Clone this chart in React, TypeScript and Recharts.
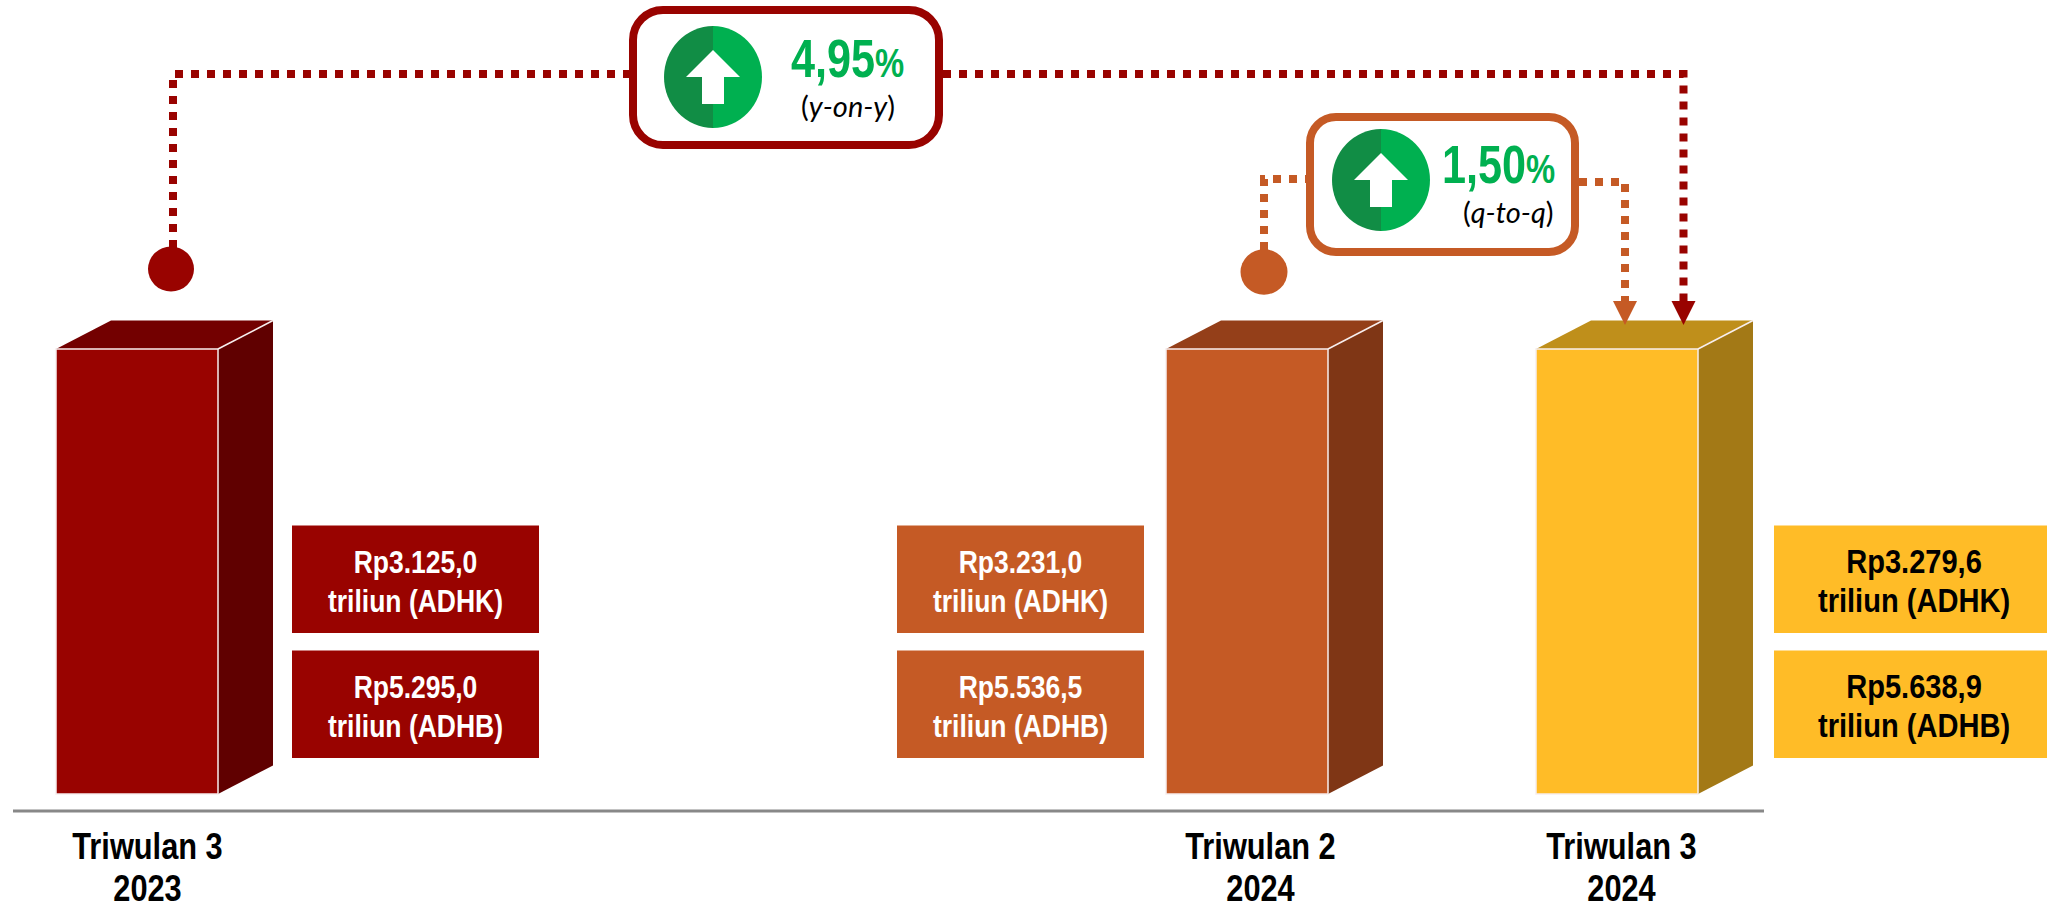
import { Bar, BarChart, XAxis, YAxis } from "recharts";

// five quarters on the axis, two of them are left empty in the source picture
const quarterIds = ["T3-2023", "T4-2023", "T1-2024", "T2-2024", "T3-2024"];
const quarterLabels = ["Triwulan 3", "", "", "Triwulan 2", "Triwulan 3"];
const yearLabels = ["2023", "", "", "2024", "2024"];
// the columns are illustrative: all drawn the same height, whatever the amounts
const barHeights = [100, null, null, 100, 100];
const adhk = [3125.0, null, null, 3231.0, 3279.6];
const adhb = [5295.0, null, null, 5536.5, 5638.9];

const data = quarterIds.map((id, i) => ({
  id,
  quarter: quarterLabels[i],
  year: yearLabels[i],
  height: barHeights[i],
  adhk: adhk[i],
  adhb: adhb[i],
}));

const GREEN = "#00B050";
const GREEN_DARK = "#118D45";
const RED = "#990300";
const ORANGE = "#C55A25";

const barStyles: Record<string, any> = {
  "T3-2023": { front: RED, side: "#600000", top: "#730000", boxDx: 236, boxW: 247, text: "#fff", font: 31, labelDx: 10.5 },
  "T2-2024": { front: ORANGE, side: "#7F3615", top: "#943F19", boxDx: -269, boxW: 247, text: "#fff", font: 31, labelDx: 13.5 },
  "T3-2024": { front: "#FFBC27", side: "#A37916", top: "#BF8F1B", boxDx: 238, boxW: 280, text: "#000", font: 34, labelDx: 4.5 },
};

const rupiah = (v: number) =>
  "Rp" + v.toLocaleString("id-ID", { minimumFractionDigits: 1, maximumFractionDigits: 1 });

// no Arial Narrow here, so squeeze Liberation Sans Bold sideways
function NarrowText({ x, y, size, fill, anchor = "middle", squeeze = 0.855, children }: any) {
  return (
    <text
      transform={`translate(${x} ${y}) scale(${squeeze} 1)`}
      textAnchor={anchor}
      fontFamily="'Liberation Sans', Arial, sans-serif"
      fontWeight={700}
      fontSize={size}
      fill={fill}
    >
      {children}
    </text>
  );
}

function ValueBox({ x, y, width, fill, color, font, amount, kind }: any) {
  const cx = x + width / 2;
  return (
    <g>
      <rect x={x} y={y} width={width} height={107.5} fill={fill} />
      <NarrowText x={cx} y={y + 47} size={font} fill={color}>
        {rupiah(amount)}
      </NarrowText>
      <NarrowText x={cx} y={y + 86} size={font} fill={color}>
        {`triliun (${kind})`}
      </NarrowText>
    </g>
  );
}

function Column(props: any) {
  const { x, y, width, height, payload } = props;
  if (!payload || payload.height == null) return null;
  const s = barStyles[payload.id];
  const dx = 55;
  const dy = 28.5;
  const r = x + width;
  const b = y + height;
  return (
    <g>
      <polygon points={`${x},${y} ${x + dx},${y - dy} ${r + dx},${y - dy} ${r},${y}`} fill={s.top} />
      <polygon points={`${r},${y} ${r + dx},${y - dy} ${r + dx},${b - dy} ${r},${b}`} fill={s.side} />
      <rect x={x} y={y} width={width} height={height} fill={s.front} stroke="#f7eeee" strokeWidth={1.5} />
      <line x1={r} y1={y} x2={r + dx} y2={y - dy} stroke="#f7eeee" strokeWidth={1.5} />
      <ValueBox x={x + s.boxDx} y={y + 176.5} width={s.boxW} fill={s.front} color={s.text} font={s.font} amount={payload.adhk} kind="ADHK" />
      <ValueBox x={x + s.boxDx} y={y + 301.5} width={s.boxW} fill={s.front} color={s.text} font={s.font} amount={payload.adhb} kind="ADHB" />
    </g>
  );
}

function QuarterTick({ x, y, payload, index }: any) {
  const row = data[index];
  if (!row || !row.quarter) return null;
  const s = barStyles[payload.value];
  const cx = x + s.labelDx;
  return (
    <g>
      <NarrowText x={cx} y={y + 40} size={36} fill="#000">{row.quarter}</NarrowText>
      <NarrowText x={cx} y={y + 82} size={36} fill="#000">{row.year}</NarrowText>
    </g>
  );
}

function UpBadge({ cx, cy }: { cx: number; cy: number }) {
  const rx = 49;
  const ry = 51;
  return (
    <g>
      <path d={`M${cx} ${cy - ry} A${rx} ${ry} 0 0 0 ${cx} ${cy + ry} Z`} fill={GREEN_DARK} />
      <path d={`M${cx} ${cy - ry} A${rx} ${ry} 0 0 1 ${cx} ${cy + ry} Z`} fill={GREEN} />
      <polygon
        points={`${cx},${cy - 27} ${cx + 27},${cy} ${cx + 11},${cy} ${cx + 11},${cy + 27} ${cx - 11},${cy + 27} ${cx - 11},${cy} ${cx - 27},${cy}`}
        fill="#fff"
      />
    </g>
  );
}

function Growth({ x, y, pct, note, noteX }: any) {
  return (
    <g>
      <NarrowText x={x} y={y} size={54} fill={GREEN} anchor="start" squeeze={0.8}>
        {pct}
        <tspan fontSize={41}>%</tspan>
      </NarrowText>
      <text x={noteX} y={y + 40} fontFamily="Lato, 'Open Sans', sans-serif" fontSize={29} fill="#000">
        (<tspan fontStyle="italic">{note}</tspan>)
      </text>
    </g>
  );
}

// comparison callouts sit over the chart, they are not part of its scales
function Callouts() {
  return (
    <svg width={2047} height={908} style={{ position: "absolute", left: 0, top: 0, pointerEvents: "none" }}>
      <g fill="none" stroke={RED} strokeWidth={8} strokeDasharray="8 8">
        <path d="M173 248 V74 H630" />
        <path d="M943 74 H1683.5 V304" />
      </g>
      <g fill="none" stroke={ORANGE} strokeWidth={8} strokeDasharray="8 8">
        <path d="M1264 250 V179 H1306" />
        <path d="M1579 182 H1625 V304" />
      </g>
      <ellipse cx={171} cy={269} rx={23} ry={22.5} fill={RED} />
      <ellipse cx={1264} cy={272} rx={23.5} ry={22.7} fill={ORANGE} />
      <polygon points="1613,301 1637,301 1625,325" fill={ORANGE} />
      <polygon points="1671.5,301 1695.5,301 1683.5,325" fill={RED} />

      <rect x={633} y={10} width={306} height={135} rx={30} fill="#fff" stroke={RED} strokeWidth={8} />
      <UpBadge cx={713} cy={77} />
      <Growth x={791} y={77} pct="4,95" note="y-on-y" noteX={801} />

      <rect x={1310} y={117} width={265} height={135} rx={26} fill="#fff" stroke={ORANGE} strokeWidth={8} />
      <UpBadge cx={1381} cy={180} />
      <Growth x={1442} y={183} pct="1,50" note="q-to-q" noteX={1463} />
    </svg>
  );
}

export default function App() {
  return (
    <div style={{ position: "absolute", left: 0, top: 0, width: 2047, height: 908, background: "#fff", overflow: "hidden" }}>
      <BarChart
        width={2047}
        height={908}
        data={data}
        barSize={162}
        margin={{ top: 349, right: 283, left: 13, bottom: 0 }}
      >
        <XAxis
          dataKey="id"
          interval={0}
          height={97}
          padding={{ left: -61, right: -38 }}
          tickLine={false}
          axisLine={{ stroke: "#888888", strokeWidth: 3 }}
          tick={<QuarterTick />}
        />
        <YAxis hide domain={[-3.82, 100]} />
        <Bar dataKey="height" isAnimationActive={false} shape={<Column />} />
      </BarChart>
      <Callouts />
    </div>
  );
}
